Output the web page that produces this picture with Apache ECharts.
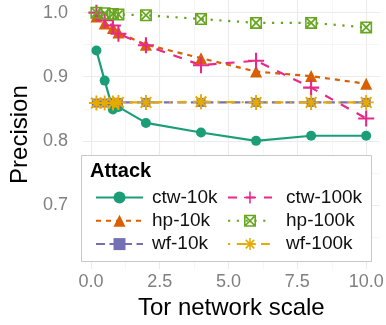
<!DOCTYPE html>
<html>
<head>
<meta charset="utf-8">
<script src="https://cdn.jsdelivr.net/npm/echarts@6/dist/echarts.min.js"></script>
<style>
  html, body { margin: 0; padding: 0; background: #fff; }
  #chart { width: 386px; height: 325px; }
</style>
</head>
<body>
<div id="chart"></div>
<script>
// Tor network scale (x) and precision per attack
const scales = [0.2, 0.5, 0.8, 1, 2, 4, 6, 8, 10];
const ctw10k = [0.941, 0.894, 0.849, 0.853, 0.828, 0.813, 0.800, 0.808, 0.808];
const hp10k = [0.994, 0.983, 0.976, 0.969, 0.950, 0.929, 0.908, 0.901, 0.889];
const wf10k = [0.859, 0.859, 0.860, 0.860, 0.860, 0.860, 0.860, 0.860, 0.860];
const ctw100k = [1.0, 0.988, 0.980, 0.967, 0.949, 0.918, 0.925, 0.883, 0.835];
const hp100k = [1.0, 0.999, 0.998, 0.997, 0.996, 0.990, 0.984, 0.984, 0.977];
const wf100k = [0.859, 0.859, 0.859, 0.860, 0.860, 0.861, 0.860, 0.860, 0.860];

const xTicks = [0, 2.5, 5, 7.5, 10];
const yTicks = [0.7, 0.8, 0.9, 1.0];
const xMinor = [1.25, 3.75, 6.25, 8.75];
const yMinor = [0.65, 0.75, 0.85, 0.95];

const FONT = 'Liberation Sans, Arial, sans-serif';

// ggplot-like shapes (filled polygons)
const plusPath = 'path://M0,43.5L100,43.5L100,56.5L0,56.5Z M43.5,0L56.5,0L56.5,100L43.5,100Z';
const starPath = plusPath +
    ' M19.2,10L90,80.8L80.8,90L10,19.2Z M90,19.2L19.2,90L10,80.8L80.8,10Z';
const boxCrossPath = 'path://M0,0L100,0L100,100L0,100Z M13,13L13,87L87,87L87,13Z' +
    ' M20,10L90,80L80,90L10,20Z M90,20L20,90L10,80L80,10Z';

function pairs(ys) {
    return scales.map((x, i) => [x, ys[i]]);
}

function mkSeries(name, ys, color, dash, symbol, size) {
    return {
        name: name,
        type: 'line',
        data: pairs(ys),
        symbol: symbol,
        symbolSize: size,
        showAllSymbol: true,
        itemStyle: { color: color },
        lineStyle: { color: color, width: 2.2, type: dash },
        emphasis: { disabled: true },
        z: 2
    };
}

let chart = echarts.init(document.getElementById('chart'));

let option = {
    animation: false,
    backgroundColor: '#fff',
    grid: { left: 68, right: 5, top: 0, height: 277 },
    xAxis: {
        type: 'value',
        min: -0.29,
        max: 10.49,
        name: 'Tor network scale',
        nameLocation: 'middle',
        nameGap: 23,
        nameTextStyle: { fontFamily: FONT, fontSize: 24, color: '#000' },
        axisLine: { show: false },
        axisTick: { show: false, customValues: xTicks },
        axisLabel: {
            customValues: xTicks,
            margin: 4,
            fontFamily: FONT, fontSize: 18, color: '#7f7f7f',
            formatter: v => v.toFixed(1)
        },
        splitLine: { show: true, lineStyle: { color: '#ebebeb', width: 1.1 } }
    },
    yAxis: {
        type: 'value',
        min: 0.6,
        max: 1.0197,
        name: 'Precision',
        nameLocation: 'middle',
        nameGap: 50,
        nameTextStyle: { fontFamily: FONT, fontSize: 24, color: '#000' },
        axisLine: { show: false },
        axisTick: { show: false, customValues: yTicks },
        axisLabel: {
            customValues: yTicks,
            margin: 15,
            fontFamily: FONT, fontSize: 18, color: '#7f7f7f',
            formatter: v => v.toFixed(1)
        },
        splitLine: { show: true, lineStyle: { color: '#ebebeb', width: 1.1 } }
    },
    legend: [
        {
            data: ['ctw-10k', 'hp-10k', 'wf-10k'],
            orient: 'vertical',
            left: 95, top: 187.5,
            itemWidth: 47, itemHeight: 15, itemGap: 3.3,
            padding: 0,
            selectedMode: false,
            textStyle: { fontFamily: FONT, fontSize: 19, color: '#111', lineHeight: 20, padding: [0, 0, 0, 4] }
        },
        {
            data: ['ctw-100k', 'hp-100k', 'wf-100k'],
            orient: 'vertical',
            left: 227, top: 187.5,
            itemWidth: 44, itemHeight: 15, itemGap: 3.3,
            padding: 0,
            selectedMode: false,
            textStyle: { fontFamily: FONT, fontSize: 19, color: '#111', lineHeight: 20, padding: [0, 0, 0, 9] }
        }
    ],
    graphic: [
        {
            type: 'rect',
            z: 3,
            shape: { x: 81.5, y: 155.5, width: 290, height: 106 },
            style: { fill: '#fff', stroke: '#c8c8c8', lineWidth: 1 }
        },
        {
            type: 'text',
            z: 4,
            left: 90, top: 161,
            style: { text: 'Attack', font: 'bold 20px ' + FONT, fill: '#000' }
        }
    ],
    series: [
        {
            // minor grid lines
            type: 'line',
            data: [],
            silent: true,
            markLine: {
                silent: true,
                symbol: 'none',
                z: 1,
                label: { show: false },
                lineStyle: { color: '#f4f4f4', width: 0.8, type: 'solid' },
                data: xMinor.map(v => ({ xAxis: v })).concat(yMinor.map(v => ({ yAxis: v })))
            }
        },
        mkSeries('ctw-10k', ctw10k, '#1b9e77', 'solid', 'circle', 10),
        mkSeries('hp-10k', hp10k, '#d95f02', [5, 5], 'triangle', 12),
        mkSeries('wf-10k', wf10k, '#7570b3', [9, 4.5], 'rect', 9),
        mkSeries('ctw-100k', ctw100k, '#e7298a', [9, 9], plusPath, 16),
        mkSeries('hp-100k', hp100k, '#66a61e', [2.2, 6.6], boxCrossPath, 12),
        mkSeries('wf-100k', wf100k, '#e6ab02', [2.2, 6.6, 8.8, 6.6], starPath, 15)
    ]
};

option && chart.setOption(option);
</script>
</body>
</html>
